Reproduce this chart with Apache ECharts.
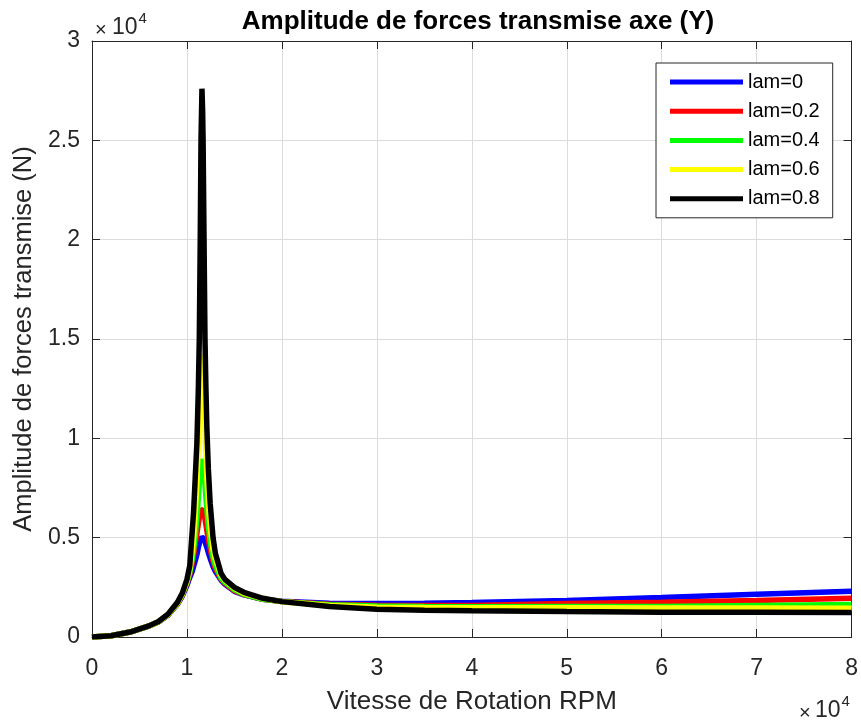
<!DOCTYPE html>
<html>
<head>
<meta charset="utf-8">
<script src="https://cdn.jsdelivr.net/npm/echarts@6/dist/echarts.min.js"></script>
<style>
html,body{margin:0;padding:0;background:#fff;}
#c{width:861px;height:720px;}
</style>
</head>
<body>
<div id="c"></div>
<script>
const titleText = 'Amplitude de forces transmise axe (Y)';
const xName = 'Vitesse de Rotation RPM';
const yName = 'Amplitude de forces transmise (N)';
const seriesNames = ['lam=0', 'lam=0.2', 'lam=0.4', 'lam=0.6', 'lam=0.8'];
const seriesColors = ['#0000ff', '#ff0000', '#00ff00', '#ffff00', '#000000'];

const rpm = [0, 2000, 4000, 6000, 7000, 8000, 9000, 9500, 10000, 10300, 10550, 10700, 10850, 11050, 11200, 11300, 11400, 11480, 11580, 11650, 11700, 11800, 11900, 12000, 12100, 12250, 12450, 12750, 13000, 13600, 14000, 15000, 16000, 18000, 20000, 25000, 30000, 35000, 40000, 50000, 60000, 70000, 80000];

const lam0  = [0, 60, 250, 550, 760, 1100, 1650, 2050, 2600, 3000, 3300, 3550, 3800, 4150, 4500, 4700, 4880, 4970, 5030, 5040, 5030, 4950, 4800, 4650, 4500, 4250, 3950, 3550, 3300, 2850, 2650, 2300, 2120, 1900, 1800, 1700, 1680, 1700, 1740, 1840, 1990, 2150, 2300];
const lam02 = [0, 60, 250, 555, 765, 1110, 1670, 2080, 2700, 3150, 3700, 4100, 4600, 5200, 5700, 6000, 6250, 6380, 6440, 6450, 6420, 6250, 5950, 5650, 5350, 4900, 4400, 3800, 3450, 2900, 2700, 2330, 2130, 1900, 1790, 1650, 1600, 1590, 1590, 1690, 1750, 1840, 1950];
const lam04 = [0, 60, 250, 557, 770, 1120, 1690, 2120, 2750, 3250, 3900, 4400, 5000, 6000, 7000, 7700, 8350, 8750, 8950, 8950, 8850, 8400, 7700, 7000, 6400, 5600, 4800, 4000, 3600, 2950, 2750, 2380, 2150, 1900, 1780, 1620, 1560, 1530, 1520, 1540, 1540, 1590, 1640];
const lam06 = [0, 60, 250, 558, 775, 1130, 1710, 2160, 2800, 3400, 4300, 5000, 6000, 7800, 9800, 11500, 13000, 13900, 14200, 14100, 13700, 12300, 10600, 9200, 8000, 6700, 5500, 4400, 3900, 3100, 2850, 2450, 2200, 1930, 1780, 1580, 1500, 1480, 1470, 1470, 1460, 1460, 1450];
const lam08 = [0, 60, 250, 560, 780, 1150, 1750, 2200, 2900, 3600, 5300, 6300, 7800, 9800, 12500, 15000, 20000, 25000, 27600, 26500, 25000, 20000, 15000, 12500, 10500, 8500, 6700, 5000, 4200, 3200, 2900, 2500, 2250, 1950, 1780, 1530, 1400, 1350, 1320, 1280, 1250, 1240, 1230];

const xTicks = ['0', '1', '2', '3', '4', '5', '6', '7', '8'];
const yTicks = ['0', '0.5', '1', '1.5', '2', '2.5', '3'];

const allValues = [lam0, lam02, lam04, lam06, lam08];

const axisColor = '#262626';
const font = 'Arial, "Liberation Sans", Helvetica, sans-serif';

const chart = echarts.init(document.getElementById('c'), null, {renderer: 'canvas'});

const series = allValues.map((vals, k) => ({
  name: seriesNames[k],
  type: 'line',
  xAxisIndex: 0,
  yAxisIndex: 0,
  showSymbol: false,
  symbol: 'none',
  smooth: false,
  animation: false,
  color: seriesColors[k],
  lineStyle: {color: seriesColors[k], width: 5.5, join: 'bevel', cap: 'butt'},
  data: rpm.map((x, i) => [x, vals[i]]),
  z: 2 + k
}));

const option = {
  animation: false,
  backgroundColor: '#ffffff',
  textStyle: {fontFamily: font},
  title: {
    text: titleText,
    left: 473,
    textAlign: 'center',
    top: 4,
    textStyle: {fontFamily: font, fontWeight: 'bold', fontSize: 26, color: '#000'}
  },
  grid: {left: 92, right: 7, top: 41, bottom: 76, containLabel: false},
  legend: {
    orient: 'vertical',
    left: 656,
    top: 63,
    padding: [9, 13, 9, 14],
    itemGap: 9.2,
    itemWidth: 73,
    itemHeight: 5,
    icon: 'rect',
    borderColor: axisColor,
    borderWidth: 1,
    backgroundColor: '#ffffff',
    borderRadius: 0,
    textStyle: {fontFamily: font, fontSize: 20, lineHeight: 20, color: '#000'},
    data: seriesNames
  },
  xAxis: [
    {
      type: 'value', position: 'bottom', min: 0, max: 80000, interval: 10000,
      name: xName, nameLocation: 'middle', nameGap: 52,
      nameTextStyle: {fontFamily: font, fontSize: 26, color: axisColor},
      axisLine: {show: true, onZero: false, lineStyle: {color: axisColor, width: 1}},
      axisTick: {show: true, inside: true, length: 8, lineStyle: {color: axisColor, width: 1}},
      axisLabel: {show: true, margin: 20, fontSize: 23, color: axisColor, fontFamily: font,
        showMinLabel: true, showMaxLabel: true,
        formatter: (v) => xTicks[Math.round(v / 10000)]},
      splitLine: {show: true, lineStyle: {color: '#dcdcdc', width: 1}}
    },
    {
      type: 'value', position: 'top', min: 0, max: 80000, interval: 10000,
      axisLine: {show: true, onZero: false, lineStyle: {color: axisColor, width: 1}},
      axisTick: {show: true, inside: true, length: 8, lineStyle: {color: axisColor, width: 1}},
      axisLabel: {show: false},
      splitLine: {show: false}
    }
  ],
  yAxis: [
    {
      type: 'value', position: 'left', min: 0, max: 30000, interval: 5000,
      name: yName, nameLocation: 'middle', nameGap: 50, nameRotate: 90,
      nameTextStyle: {fontFamily: font, fontSize: 25.5, color: axisColor},
      axisLine: {show: true, onZero: false, lineStyle: {color: axisColor, width: 1}},
      axisTick: {show: true, inside: true, length: 8, lineStyle: {color: axisColor, width: 1}},
      axisLabel: {show: true, margin: 12, fontSize: 23, color: axisColor, fontFamily: font,
        showMinLabel: true, showMaxLabel: true,
        formatter: (v) => yTicks[Math.round(v / 5000)]},
      splitLine: {show: true, lineStyle: {color: '#dcdcdc', width: 1}}
    },
    {
      type: 'value', position: 'right', min: 0, max: 30000, interval: 5000,
      axisLine: {show: true, onZero: false, lineStyle: {color: axisColor, width: 1}},
      axisTick: {show: true, inside: true, length: 8, lineStyle: {color: axisColor, width: 1}},
      axisLabel: {show: false},
      splitLine: {show: false}
    }
  ],
  graphic: [
    {type: 'text', style: {x: 95, y: 30, text: '×', fontSize: 20, fontFamily: font, fill: axisColor, textAlign: 'left', textVerticalAlign: 'middle'}},
    {type: 'text', style: {x: 112, y: 28, text: '10', fontSize: 23, fontFamily: font, fill: axisColor, textAlign: 'left', textVerticalAlign: 'middle'}},
    {type: 'text', style: {x: 138.5, y: 19, text: '4', fontSize: 15, fontFamily: font, fill: axisColor, textAlign: 'left', textVerticalAlign: 'middle'}},
    {type: 'text', style: {x: 799, y: 713, text: '×', fontSize: 20, fontFamily: font, fill: axisColor, textAlign: 'left', textVerticalAlign: 'middle'}},
    {type: 'text', style: {x: 815, y: 711, text: '10', fontSize: 23, fontFamily: font, fill: axisColor, textAlign: 'left', textVerticalAlign: 'middle'}},
    {type: 'text', style: {x: 841.5, y: 702, text: '4', fontSize: 15, fontFamily: font, fill: axisColor, textAlign: 'left', textVerticalAlign: 'middle'}}
  ],
  series: series
};

chart.setOption(option);
</script>
</body>
</html>
